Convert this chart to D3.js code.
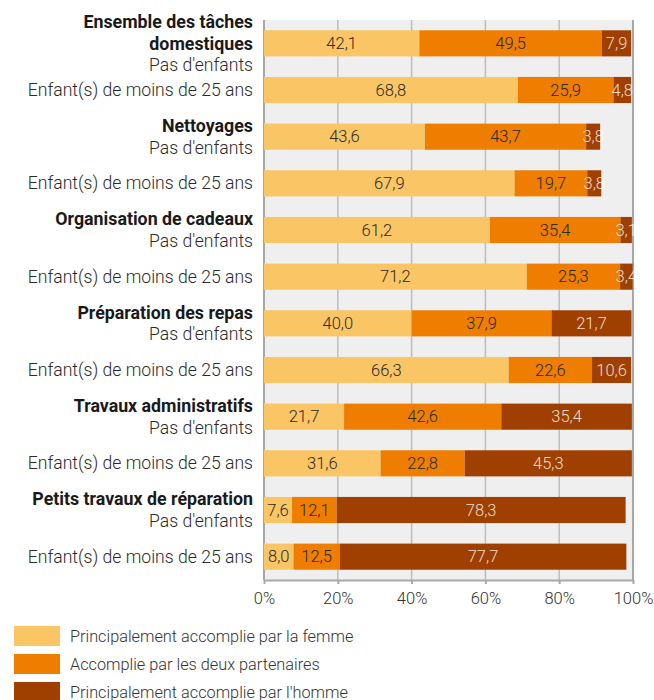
<!DOCTYPE html>
<html><head><meta charset="utf-8">
<script src="https://cdn.jsdelivr.net/npm/d3@7"></script>
<style>
body{margin:0;background:#fff;}
text{font-family:Roboto,"Noto Sans",sans-serif;}
</style></head>
<body><svg id="c" width="654" height="700"></svg>
<script>
const groups = [
  ["Ensemble des tâches", "domestiques"],
  ["Nettoyages"],
  ["Organisation de cadeaux"],
  ["Préparation des repas"],
  ["Travaux administratifs"],
  ["Petits travaux de réparation"]
];
const subgroups = ["Pas d'enfants", "Enfant(s) de moins de 25 ans"];
const seriesNames = ["Principalement accomplie par la femme", "Accomplie par les deux partenaires", "Principalement accomplie par l'homme"];
const femme = [42.1, 68.8, 43.6, 67.9, 61.2, 71.2, 40.0, 66.3, 21.7, 31.6, 7.6, 8.0];
const deux  = [49.5, 25.9, 43.7, 19.7, 35.4, 25.3, 37.9, 22.6, 42.6, 22.8, 12.1, 12.5];
const homme = [7.9, 4.8, 3.8, 3.8, 3.1, 3.4, 21.7, 10.6, 35.4, 45.3, 78.3, 77.7];
const tickValues = [0, 20, 40, 60, 80, 100];
const colors = ["#FAC564", "#EF7D00", "#A04000"];
const textColors = ["#2a2a2a", "#2a2a2a", "rgba(255,255,255,0.82)"];

const rows = [];
groups.forEach((g, gi) => subgroups.forEach((s, si) => {
  const i = gi * 2 + si;
  rows.push({id: i, title: si === 0 ? g : [], sub: s, vals: [femme[i], deux[i], homme[i]]});
}));

const svg = d3.select("#c");
const L = 264, R = 633, T = 20, B = 580;
const x = d3.scaleLinear().domain([0, 100]).range([L, R]);
const y = d3.scaleBand().domain(rows.map(r => r.id)).range([T, B]).paddingInner(0.44).paddingOuter(0.22);

svg.append("rect").attr("x", L).attr("y", T).attr("width", R - L).attr("height", B - T).attr("fill", "#efefef");

// gridlines
svg.append("g").selectAll("line").data(tickValues).join("line")
  .attr("x1", d => x(d)).attr("x2", d => x(d)).attr("y1", T).attr("y2", B)
  .attr("stroke", d => (d === 0 || d === 100) ? "#a8a8a8" : "#bdbdbd").attr("stroke-width", d => (d === 0 || d === 100) ? 2 : 1.5);

// bars
const stacks = rows.map(r => {
  let acc = 0;
  return r.vals.map((v, k) => { const s = {row: r.id, k, v, x0: acc, x1: acc + v}; acc += v; return s; });
}).flat();

svg.append("g").selectAll("rect").data(stacks).join("rect")
  .attr("x", d => x(d.x0)).attr("width", d => x(d.x1) - x(d.x0))
  .attr("y", d => y(d.row)).attr("height", y.bandwidth())
  .attr("fill", d => colors[d.k]);

svg.append("g").selectAll("text").data(stacks).join("text")
  .attr("x", d => (x(d.x0) + x(d.x1)) / 2).attr("y", d => y(d.row) + y.bandwidth() / 2)
  .attr("dy", "0.35em").attr("text-anchor", "middle")
  .attr("font-size", 16.5).attr("font-weight", 300)
  .attr("fill", d => textColors[d.k])
  .text(d => d.v.toFixed(1).replace(".", ","));

// axis
const ax = svg.append("g").attr("transform", `translate(0,${B})`)
  .call(d3.axisBottom(x).tickValues(tickValues).tickFormat(d => d + "%").tickSize(4).tickSizeOuter(0));
ax.select(".domain").attr("stroke", "#a8a8a8").attr("stroke-width", 2);
ax.selectAll(".tick line").attr("stroke", "#a8a8a8").attr("stroke-width", 2);
ax.selectAll(".tick text").attr("font-size", 16.5).attr("font-weight", 300).attr("fill", "#333")
  .attr("font-family", "Roboto,sans-serif").attr("y", 12);

// category labels
const lh = 21.5;
const lab = svg.append("g");
rows.forEach(r => {
  const lines = r.title.map(t => ({t, bold: true})).concat([{t: r.sub, bold: false}]);
  const cy = y(r.id) + y.bandwidth() / 2;
  const start = cy - (lines.length - 1) * lh / 2;
  lines.forEach((ln, j) => {
    lab.append("text").attr("x", 253).attr("y", start + j * lh).attr("dy", "0.35em")
      .attr("text-anchor", "end").attr("font-size", ln.bold ? 17.8 : 17.6)
      .attr("font-weight", ln.bold ? 700 : 300)
      .attr("fill", ln.bold ? "#1a1a1a" : "#2a2a2a")
      .text(ln.t);
  });
});

// legend
const lg = svg.append("g").selectAll("g").data(seriesNames).join("g")
  .attr("transform", (d, i) => `translate(14,${626 + i * 28})`);
lg.append("rect").attr("width", 46).attr("height", 20).attr("fill", (d, i) => colors[i]);
lg.append("text").attr("x", 56).attr("y", 10).attr("dy", "0.35em").attr("font-size", 16.3)
  .attr("font-weight", 300).attr("fill", "#333").text(d => d);
</script></body></html>
